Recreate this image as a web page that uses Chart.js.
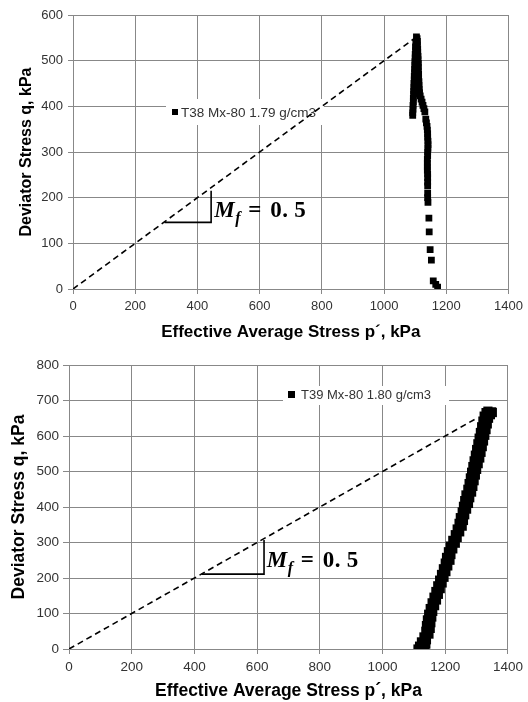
<!DOCTYPE html>
<html>
<head>
<meta charset="utf-8">
<script src="https://cdn.jsdelivr.net/npm/chart.js@4/dist/chart.umd.min.js"></script>
<style>
  html, body { margin: 0; padding: 0; background: #fff; }
  #wrap { position: relative; width: 528px; height: 702px; }
  canvas { position: absolute; left: 0; }
</style>
</head>
<body>
<div id="wrap">
  <canvas id="chartT38" width="528" height="350" style="top:0"></canvas>
  <canvas id="chartT39" width="528" height="352" style="top:350px"></canvas>
</div>
<script>
// ---- axis ticks ----
const pTicks = [0, 200, 400, 600, 800, 1000, 1200, 1400];
const qTicksT38 = [0, 100, 200, 300, 400, 500, 600];
const qTicksT39 = [0, 100, 200, 300, 400, 500, 600, 700, 800];

// ---- T38 Mx-80 1.79 g/cm3 : effective mean stress p' and deviator stress q (kPa) ----
const t38P = [1172, 1166, 1158, 1152, 1148, 1145, 1144,
  1141, 1140, 1140, 1140, 1140, 1140, 1140, 1139, 1139, 1139,
  1139, 1140, 1140, 1141, 1141, 1141, 1140, 1140, 1139, 1138, 1136, 1134,
  1131, 1128, 1125, 1122, 1119, 1116, 1114, 1113, 1112, 1112, 1111, 1111,
  1110, 1110, 1110, 1109, 1109, 1108, 1108, 1107, 1107, 1106, 1104,
  1102, 1101, 1101, 1100, 1100, 1099, 1099, 1098, 1098, 1097, 1097, 1096,
  1096, 1095, 1095, 1094, 1094, 1093, 1093, 1092, 1092];
const t38Q = [4, 10, 18, 63, 86, 125, 155,
  190, 200, 210, 226, 234, 244, 252, 260, 268, 275,
  284, 292, 300, 308, 316, 324, 332, 340, 348, 356, 364, 372,
  388, 395, 402, 409, 416, 423, 430, 438, 446, 454, 462, 470,
  478, 486, 494, 502, 510, 518, 526, 534, 542, 548, 552,
  538, 530, 522, 514, 506, 498, 490, 482, 474, 466, 458, 450,
  442, 434, 426, 418, 410, 402, 394, 386, 380];

// ---- T39 Mx-80 1.80 g/cm3 ----
const t39P = [1113, 1135, 1118, 1138, 1124, 1140, 1132, 1148, 1138, 1152, 1140, 1154,
  1143, 1157, 1147, 1160, 1152, 1166, 1158, 1172, 1164, 1178, 1170, 1184, 1176, 1190,
  1182, 1196, 1188, 1202, 1194, 1208, 1200, 1215, 1204, 1218, 1210, 1224, 1216, 1232,
  1224, 1238, 1232, 1246, 1238, 1254, 1244, 1258, 1248, 1262, 1254, 1268, 1258, 1274,
  1262, 1278, 1266, 1284, 1272, 1288, 1276, 1292, 1280, 1296, 1284, 1300, 1288, 1305,
  1292, 1310, 1296, 1314, 1300, 1318, 1304, 1322, 1308, 1326, 1312, 1330, 1316, 1334,
  1320, 1338, 1324, 1342, 1330, 1348, 1336, 1350, 1344];
const t39Q = [0, 4, 8, 14, 20, 26, 34, 42, 50, 58, 66, 74,
  82, 90, 98, 106, 114, 122, 130, 138, 146, 154, 162, 170, 178, 186,
  194, 202, 210, 218, 226, 234, 242, 250, 258, 266, 274, 282, 290, 298,
  306, 314, 322, 330, 338, 346, 354, 362, 370, 378, 386, 394, 402, 410,
  418, 426, 434, 442, 450, 458, 466, 474, 482, 490, 498, 506, 514, 522,
  530, 538, 546, 554, 562, 570, 578, 586, 594, 602, 610, 618, 626, 634,
  642, 650, 656, 662, 666, 668, 670, 666, 660];

// ---- failure line q = Mf * p' and slope triangles ----
const t38FailP = [0, 1100];
const t38FailQ = [0, 550];
const t39FailP = [0, 1300];
const t39FailQ = [0, 650];
const t38SlopeP = [294, 444, 444];
const t38SlopeQ = [146, 146, 215];
const t39SlopeP = [423, 622, 622];
const t39SlopeQ = [211, 211, 307];

const FONT = '"Liberation Sans", Arial, Helvetica, sans-serif';
const SERIF = '"Liberation Serif", "DejaVu Serif", "Times New Roman", serif';
const GRID = '#888888';

const pairs = (xs, ys) => xs.map((x, i) => ({ x, y: ys[i] }));

// legend box and slope label per chart
const decorations = {
  chartT38: {
    text: 'T38 Mx-80 1.79 g/cm3', textSize: 13.5,
    box: [166, 99, 158, 26], marker: [172, 109, 6], textX: 181, textY: 113,
    labelAt: [454, 158]
  },
  chartT39: {
    text: 'T39 Mx-80 1.80 g/cm3', textSize: 13,
    box: [283, 36, 166, 19], marker: [288, 41, 7], textX: 301, textY: 45,
    labelAt: [631, 232]
  }
};

const decorationPlugin = {
  id: 'decorationPlugin',
  beforeDatasetsDraw(chart) {
    const d = decorations[chart.canvas.id];
    const ctx = chart.ctx;
    ctx.save();
    ctx.fillStyle = '#fff';
    ctx.fillRect(d.box[0], d.box[1], d.box[2], d.box[3]);
    ctx.fillStyle = '#000';
    ctx.fillRect(d.marker[0], d.marker[1], d.marker[2], d.marker[2]);
    ctx.fillStyle = '#333';
    ctx.font = d.textSize + 'px ' + FONT;
    ctx.textAlign = 'left';
    ctx.textBaseline = 'middle';
    ctx.fillText(d.text, d.textX, d.textY);
    ctx.restore();
  },
  afterDatasetsDraw(chart) {
    const d = decorations[chart.canvas.id];
    const ctx = chart.ctx;
    const x = chart.scales.x.getPixelForValue(d.labelAt[0]);
    const y = chart.scales.y.getPixelForValue(d.labelAt[1]);
    ctx.save();
    ctx.fillStyle = '#000';
    ctx.textAlign = 'left';
    ctx.textBaseline = 'alphabetic';
    ctx.font = 'italic bold 23px ' + SERIF;
    ctx.fillText('M', x, y);
    ctx.font = 'italic bold 16px ' + SERIF;
    ctx.fillText('f', x + 21, y + 6);
    ctx.font = 'bold 23px ' + SERIF;
    ctx.fillText('=', x + 34, y);
    ctx.fillText('0', x + 56, y);
    ctx.fillText('.', x + 68, y);
    ctx.fillText('5', x + 80, y);
    ctx.restore();
  }
};

function buildChart(id, cfg) {
  return new Chart(document.getElementById(id), {
    type: 'scatter',
    data: {
      datasets: [
        {
          label: cfg.name,
          data: pairs(cfg.p, cfg.q),
          showLine: false,
          pointStyle: 'rect',
          pointRadius: cfg.markerRadius,
          backgroundColor: '#000',
          borderColor: '#000',
          borderWidth: 0
        },
        {
          data: pairs(cfg.failP, cfg.failQ),
          showLine: true,
          borderColor: '#000',
          borderWidth: 1.6,
          borderDash: [6, 4],
          pointRadius: 0,
          fill: false
        },
        {
          data: pairs(cfg.slopeP, cfg.slopeQ),
          showLine: true,
          borderColor: '#000',
          borderWidth: 1.6,
          pointRadius: 0,
          fill: false
        }
      ]
    },
    options: {
      responsive: false,
      animation: false,
      devicePixelRatio: 1,
      layout: { padding: { left: 0, top: cfg.top, right: cfg.right, bottom: 0 } },
      plugins: { legend: { display: false }, tooltip: { enabled: false } },
      scales: {
        x: {
          type: 'linear',
          min: 0, max: 1400,
          afterBuildTicks: s => { s.ticks = pTicks.map(v => ({ value: v })); },
          afterFit: s => { s.height = cfg.xHeight; },
          grid: { color: GRID, lineWidth: 1, tickLength: 5, tickColor: GRID },
          border: { color: GRID, width: 1 },
          ticks: {
            color: '#333', font: { family: FONT, size: cfg.tickSize }, padding: 5, maxRotation: 0,
            callback: v => String(v)
          },
          title: {
            display: true,
            text: 'Effective Average Stress p´, kPa',
            color: '#000',
            font: { family: FONT, size: cfg.xTitleSize, weight: 'bold' },
            padding: { top: 0, bottom: cfg.xTitlePad }
          }
        },
        y: {
          type: 'linear',
          min: 0, max: cfg.qMax,
          afterBuildTicks: s => { s.ticks = cfg.qTicks.map(v => ({ value: v })); },
          afterFit: s => { s.width = cfg.yWidth; },
          grid: { color: GRID, lineWidth: 1, tickLength: cfg.yTick, tickColor: GRID },
          border: { color: GRID, width: 1 },
          ticks: {
            color: '#333', font: { family: FONT, size: cfg.tickSize }, padding: cfg.yTickPad,
            callback: v => String(v)
          },
          title: {
            display: true,
            text: 'Deviator Stress q, kPa',
            color: '#000',
            font: { family: FONT, size: cfg.yTitleSize, weight: 'bold' },
            padding: { top: cfg.yTitlePad, bottom: 0 }
          }
        }
      }
    },
    plugins: [decorationPlugin]
  });
}

buildChart('chartT38', {
  name: 'T38 Mx-80 1.79 g/cm3',
  p: t38P, q: t38Q, failP: t38FailP, failQ: t38FailQ, slopeP: t38SlopeP, slopeQ: t38SlopeQ,
  qMax: 600, qTicks: qTicksT38, markerRadius: 4.8,
  top: 15, right: 17, xHeight: 61, yWidth: 73, yTick: 5, yTickPad: 5,
  tickSize: 13, xTitleSize: 17, yTitleSize: 16,
  xTitlePad: 7, yTitlePad: 17
});

buildChart('chartT39', {
  name: 'T39 Mx-80 1.80 g/cm3',
  p: t39P, q: t39Q, failP: t39FailP, failQ: t39FailQ, slopeP: t39SlopeP, slopeQ: t39SlopeQ,
  qMax: 800, qTicks: qTicksT39, markerRadius: 6.5,
  top: 15, right: 20, xHeight: 53, yWidth: 69, yTick: 6, yTickPad: 4,
  tickSize: 13.5, xTitleSize: 17.5, yTitleSize: 17.5,
  xTitlePad: 0, yTitlePad: 9
});
</script>
</body>
</html>
